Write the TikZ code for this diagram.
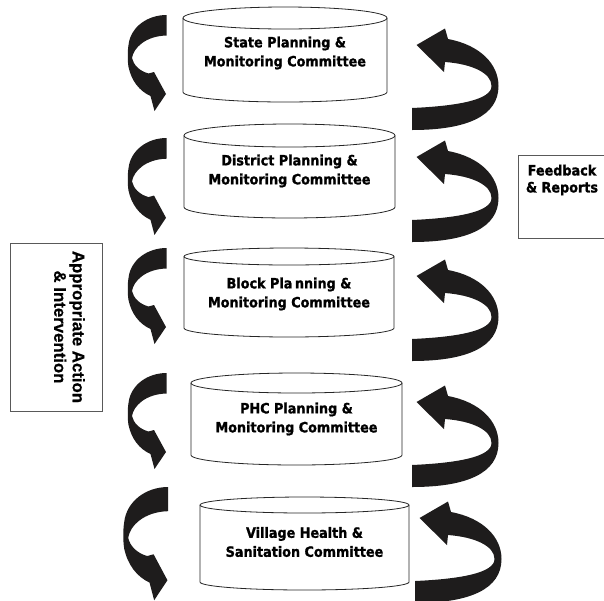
\documentclass[tikz,border=0pt]{standalone}
\usepackage{fontspec}
\newfontfamily\cylfont{DejaVu Sans}[FakeStretch=0.9,BoldFeatures={FakeBold=1.2}]
\newfontfamily\arfont{Liberation Sans}[BoldFeatures={FakeBold=0.6}]
\definecolor{arrowblack}{RGB}{30,28,28}
\tikzset{
  cylline/.style={draw=black!85, line width=0.8pt},
  boxline/.style={draw=black!65, line width=1pt},
  cyltext/.style={font=\cylfont\bfseries\fontsize{14.2}{19}\selectfont, align=center, inner sep=0pt},
  fbtext/.style={font=\cylfont\bfseries\fontsize{14.2}{17}\selectfont, align=center, inner sep=0pt},
  acttext/.style={font=\arfont\bfseries\fontsize{16.8}{18.5}\selectfont, align=center, inner sep=0pt, rotate=-90},
  arrowshape/.style={fill=arrowblack},
}
% cylinder: cx rx ytop rytop ybottom rybottom
\newcommand\mycyl[6]{%
  \draw[cylline] ({#1-#2},#3) -- ({#1-#2},#5) arc[start angle=180,end angle=360,x radius=#2pt,y radius=#6pt] -- ({#1+#2},#3);
  \draw[cylline] (#1,#3) ellipse[x radius=#2pt, y radius=#4pt];
}
% left curved arrow: x0 y0 xscale yscale
\newcommand\myLarrow[4]{%
  \begin{scope}[shift={(#1,#2)},xscale=#3,yscale=#4]
    \fill[arrowshape] (39,0) .. controls (20,0) and (3,12) .. (1,30)
      .. controls (0,36) and (0,46) .. (1,52)
      .. controls (4,66) and (12,76) .. (23,81)
      -- (27,96) -- (38.5,79) -- (26.5,57) -- (21,58.5)
      .. controls (12,56) and (6,50) .. (4.5,43)
      .. controls (6,33) and (18,21) .. (39,20.5) -- cycle;
  \end{scope}}
% right curved arrow: x0 y0
\newcommand\myRarrow[2]{%
  \begin{scope}[shift={(#1,#2)}]
    \fill[arrowshape] (0,102) -- (0,80) .. controls (45,78) and (79.5,72) .. (79.5,58)
      .. controls (79.5,45) and (60,36) .. (33,34)
      -- (32,44) -- (4.5,17) -- (33,0.5) -- (36,11)
      .. controls (68,17) and (86.5,36) .. (86.5,58)
      .. controls (86.5,88) and (55,102) .. (0,102) -- cycle;
  \end{scope}}
\begin{document}
\begin{tikzpicture}[x=1pt,y=-1pt]
  \useasboundingbox (0,0) rectangle (604,600);
  \clip (0,0) rectangle (604,600);
  \fill[white] (0,0) rectangle (604,600);

  % cylinders
  \mycyl{285}{102}{18}{11}{92}{10}
  \mycyl{289.5}{105.5}{135.5}{11.5}{207}{11}
  \mycyl{289}{105}{256.5}{8.5}{328}{9}
  \mycyl{296.5}{105.5}{383}{10}{455}{10}
  \mycyl{304.5}{104.5}{505}{8}{582}{8}

  \node[cyltext] (state) at (285,53) {State Planning \&\\Monitoring Committee};
  \node[cyltext] (district) at (289.5,171) {District Planning \&\\Monitoring Committee};
  \node[cyltext] (block) at (289,294) {Block Pla\kern2.5pt nning \&\\Monitoring Committee};
  \node[cyltext] (phc) at (296.5,419) {PHC Planning \&\\Monitoring Committee};
  \node[cyltext] (village) at (304.5,542) {Village Health \&\\Sanitation Committee};

  % left arrows
  \myLarrow{127.5}{15}{1}{1}
  \myLarrow{127.5}{138}{1}{1.01}
  \myLarrow{127.5}{248}{1}{1}
  \myLarrow{127.5}{373}{1}{1}
  \myLarrow{123}{487}{1.154}{1.18}

  % right arrows
  \myRarrow{412}{28}
  \myRarrow{412}{140}
  \myRarrow{412}{259}
  \myRarrow{412}{385}
  \myRarrow{415}{501}

  % side boxes
  \node[boxline, minimum width=88pt, minimum height=83pt, anchor=north west] (fbbox) at (518,155) {};
  \node[fbtext] (fb) at (562,180) {Feedback\\\& Reports};

  \node[boxline, minimum width=92pt, minimum height=168pt, anchor=north west] (actbox) at (10,243) {};
  \node[acttext] (act) at (69.5,327) {Appropriate Action\\\& Intervention};
\end{tikzpicture}
\end{document}
